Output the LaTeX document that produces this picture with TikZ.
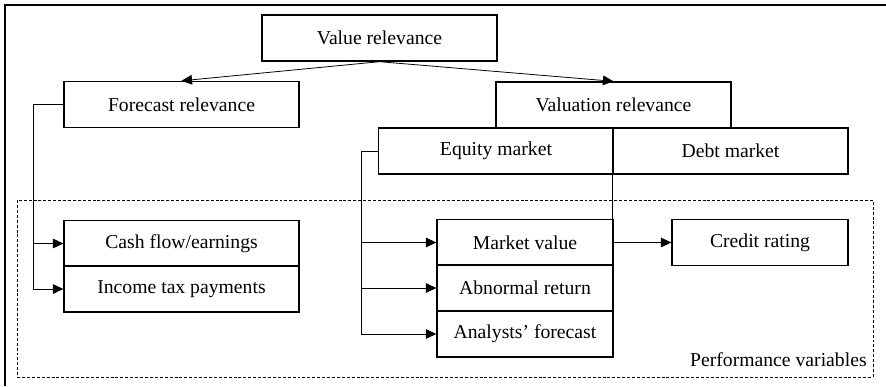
\documentclass[tikz,border=0pt]{standalone}
\usepackage{fontspec}
\setmainfont{Liberation Serif}
\usetikzlibrary{arrows.meta}
\tikzset{
    >={Triangle[length=6pt,width=5.5pt]},
    chart/.style={
        box/.append style={draw,line width=0.8pt,align=center,minimum width=4.7cm,minimum height=0.92cm,inner sep=0pt,font=\fontsize{11.2}{13}\selectfont},
        narrow/.append style={minimum width=3.52cm},
        link/.append style={draw,line width=0.45pt},
        group/.append style={draw,line width=0.45pt,dash pattern=on 1.7pt off 1.1pt}
    }
}

\begin{document}
\begin{tikzpicture}[chart,x=0.02cm,y=-0.02cm]
    \useasboundingbox (0,0) rectangle (886,386);
    \draw[line width=0.6pt] (5,386) -- (5,5) -- (886,5);
    \draw[group] (17,200) rectangle (873,377);
    \node[anchor=base east,inner sep=0pt,font=\fontsize{11.2}{13}\selectfont] (perf) at (867,366) {Performance variables};

    \node[box] (val) at (379.5, 38) {Value relevance};
    \node[box] (fore) at (181.5, 104.5) {Forecast relevance};
    \node[box] (valu) at (613.5, 105) {Valuation relevance};
    \node[box] (equity) at (496, 151) {Equity market};
    \node[box] (debt) at (730.5, 151) {Debt market};

    \node[box] (cash) at (181.5, 243.5) {Cash flow/earnings};
    \node[box] (tax) at (181.5, 289) {Income tax payments};

    \node[box,narrow] (mv) at (525, 242.5) {Market value};
    \node[box,narrow] (ar) at (525, 288) {Abnormal return};
    \node[box,narrow] (af) at (525, 334) {Analysts' forecast};
    \node[box,narrow] (cr) at (760, 242.5) {Credit rating};

    \draw[link,->] (val.south) -- (fore.north);
    \draw[link,->] (val.south) -- (valu.north);

    \coordinate (fl) at (33, 104.5);
    \draw[link] (fore.west) -- (fl);
    \draw[link,->] (fl) |- (cash.west);
    \draw[link,->] (fl) |- (tax.west);

    \coordinate (el) at (361, 151);
    \draw[link] (equity.west) -- (el);
    \draw[link,->] (el) |- (mv.west);
    \draw[link,->] (el) |- (ar.west);
    \draw[link,->] (el) |- (af.west);

    \draw[link,->] (debt.south west) |- (cr.west);
\end{tikzpicture}
\end{document}
